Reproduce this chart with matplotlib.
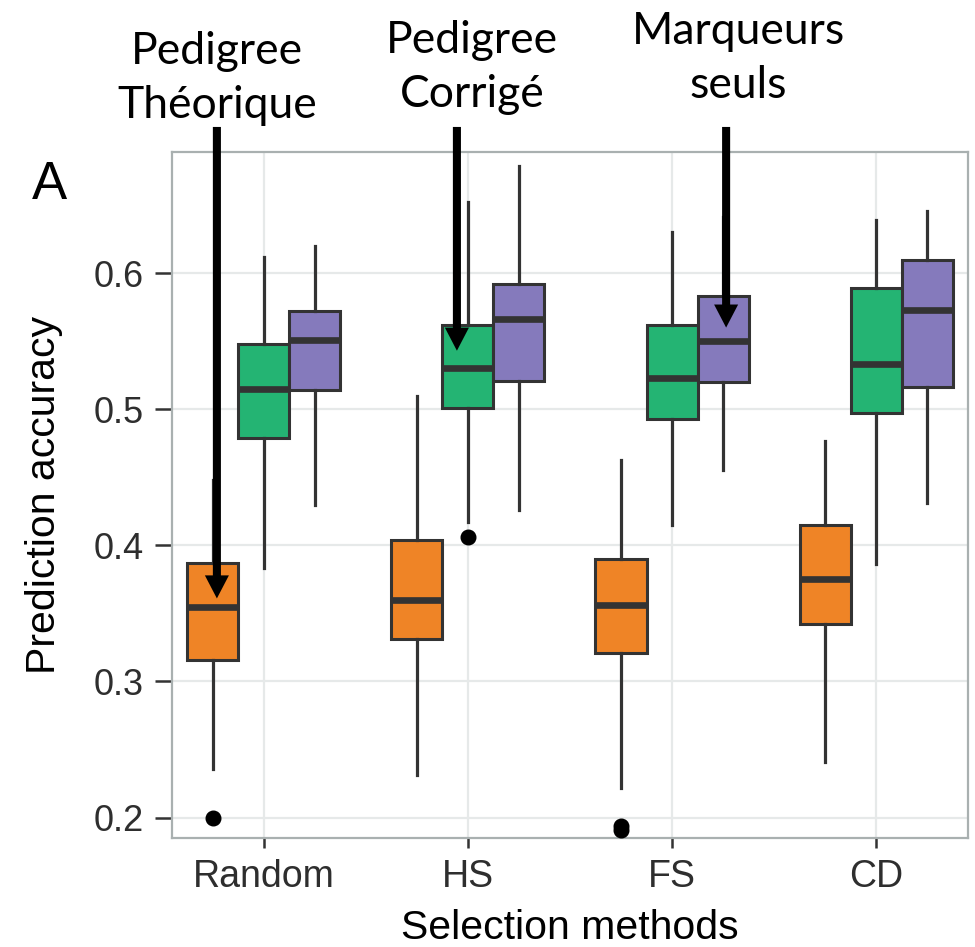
import matplotlib
matplotlib.use('Agg')
import matplotlib.pyplot as plt

categories = ['Random', 'HS', 'FS', 'CD']
series = ['Pedigree\nThéorique', 'Pedigree\nCorrigé', 'Marqueurs\nseuls']
colors = ['#EF8426', '#24B473', '#857ABC']

# five-number summaries, one value per category
orange_lo = [0.236, 0.231, 0.222, 0.241]
orange_q1 = [0.316, 0.331, 0.321, 0.342]
orange_med = [0.355, 0.360, 0.356, 0.375]
orange_q3 = [0.387, 0.404, 0.390, 0.415]
orange_hi = [0.448, 0.510, 0.463, 0.477]
orange_out = [[0.200], [], [0.191, 0.194], []]

green_lo = [0.383, 0.417, 0.415, 0.386]
green_q1 = [0.479, 0.501, 0.493, 0.497]
green_med = [0.515, 0.530, 0.523, 0.533]
green_q3 = [0.548, 0.562, 0.562, 0.589]
green_hi = [0.612, 0.652, 0.630, 0.639]
green_out = [[], [0.406], [], []]

purple_lo = [0.430, 0.426, 0.455, 0.431]
purple_q1 = [0.514, 0.521, 0.520, 0.516]
purple_med = [0.551, 0.566, 0.550, 0.573]
purple_q3 = [0.572, 0.592, 0.583, 0.610]
purple_hi = [0.620, 0.679, 0.641, 0.646]
purple_out = [[], [], [], []]

stats = [
    (orange_lo, orange_q1, orange_med, orange_q3, orange_hi, orange_out),
    (green_lo, green_q1, green_med, green_q3, green_hi, green_out),
    (purple_lo, purple_q1, purple_med, purple_q3, purple_hi, purple_out),
]

# arrows: (x, y) of tip in data units, and label anchor (last baseline) in figure pixels
arrow_tips = [(0.77, 0.361), (1.946, 0.543), (3.265, 0.560)]
arrow_top = 0.7074
label_pos = [(217, 118), (472, 107), (738, 98)]

plt.rcParams['font.family'] = ['Liberation Sans', 'DejaVu Sans']

fig = plt.figure(figsize=(9.75, 9.47), dpi=100)
ax = fig.add_axes([0.1764, 0.1151, 0.8164, 0.7244])

width = 0.25
offsets = [-0.25, 0.0, 0.25]
for s, (lo, q1, med, q3, hi, out) in enumerate(stats):
    boxes = []
    for i in range(len(categories)):
        boxes.append({'whislo': lo[i], 'q1': q1[i], 'med': med[i], 'q3': q3[i],
                      'whishi': hi[i], 'fliers': out[i]})
    pos = [i + 1 + offsets[s] for i in range(len(categories))]
    ax.bxp(boxes, positions=pos, widths=width, patch_artist=True, showcaps=False,
           boxprops=dict(facecolor=colors[s], edgecolor='#333333', linewidth=2.2),
           medianprops=dict(color='#333333', linewidth=4.8, solid_capstyle='butt'),
           whiskerprops=dict(color='#333333', linewidth=2.3),
           flierprops=dict(marker='o', markerfacecolor='black', markeredgecolor='black',
                           markersize=10.5),
           zorder=3)

ax.set_xlim(0.55, 4.45)
ax.set_ylim(0.185, 0.689)
ax.set_xticks(range(1, len(categories) + 1))
ax.set_xticklabels(categories)
ax.set_yticks([0.2, 0.3, 0.4, 0.5, 0.6])
ax.set_yticklabels(['0.2', '0.3', '0.4', '0.5', '0.6'])
ax.grid(True, color='#E6E9E9', linewidth=1.6, zorder=0)
ax.set_axisbelow(True)
for sp in ax.spines.values():
    sp.set_color('#A9B0B0')
    sp.set_linewidth(1.6)
ax.tick_params(axis='x', length=7, width=1.8, color='#333333', labelsize=27,
               labelcolor='#2E2E2E', pad=8)
ax.tick_params(axis='y', length=12, width=1.8, color='#333333', labelsize=26,
               labelcolor='#2E2E2E', pad=8.5)
ax.set_xlabel('Selection methods', fontsize=29.5, labelpad=10)
ax.set_ylabel('Prediction accuracy', fontsize=29.5, labelpad=22)

fig.text(32 / 975, 1 - 199 / 947, 'A', fontsize=38, ha='left', va='baseline')

for (tx, ty), (lx, ly), name in zip(arrow_tips, label_pos, series):
    ax.annotate('', xy=(tx, ty), xytext=(tx, arrow_top), xycoords='data',
                annotation_clip=False,
                arrowprops=dict(arrowstyle='simple,head_length=1.66,head_width=1.73,tail_width=0.58',
                                mutation_scale=10, fc='black', ec='black', lw=0,
                                shrinkA=0, shrinkB=0), zorder=6)
    fig.text(lx / 975, 1 - ly / 947, name, fontsize=32, family=['Lato', 'DejaVu Sans'],
             ha='center', va='baseline', multialignment='center', linespacing=1.38)

fig.savefig('out.png', dpi=100)
